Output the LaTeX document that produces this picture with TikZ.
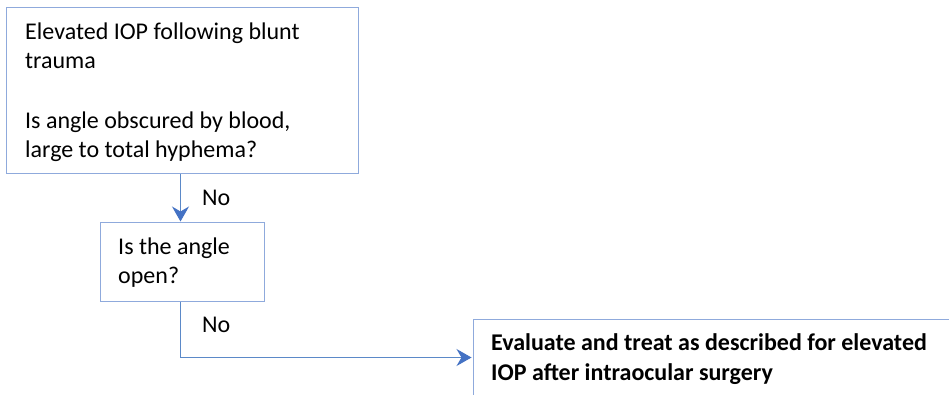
\documentclass[tikz,border=0pt]{standalone}
\usepackage{fontspec}
\setmainfont{Carlito}
\usetikzlibrary{arrows.meta}
\definecolor{boxline}{RGB}{143,170,220}
\definecolor{conn}{RGB}{91,137,200}
\definecolor{tipc}{RGB}{68,114,196}
\tikzset{
  box/.style={draw=boxline, line width=1pt, rectangle, inner sep=0pt, anchor=north west},
  txt/.style={anchor=base west, inner sep=0pt, font=\fontsize{24}{29}\selectfont, text=black},
  btxt/.style={txt, font=\fontsize{24}{29}\selectfont\bfseries},
  conn/.style={draw=conn, line width=1pt, shorten >=1pt, -{Stealth[length=15pt,width=17pt,inset=5pt,fill=tipc,color=tipc]}},
}
\begin{document}
\begin{tikzpicture}[x=1pt,y=-1pt]
\useasboundingbox (0,0) rectangle (949,395);
\clip (0,0) rectangle (949,395);
\fill[white] (0,0) rectangle (949,395);
% boxes
\node[box, minimum width=352pt, minimum height=166pt] (b1) at (5.5,7.5) {};
\node[box, minimum width=164pt, minimum height=78pt] (b2) at (99.5,222.5) {};
\node[box, minimum width=500pt, minimum height=100pt] (b3) at (472.5,318.5) {};
% texts
\node[txt] (t1a) at (25,40) {Elevated IOP following blunt};
\node[txt] (t1b) at (25,69) {trauma};
\node[txt] (t1c) at (25,129) {Is angle obscured by blood,};
\node[txt] (t1d) at (25,158) {large to total hyphema?};
\node[txt] (t2a) at (118,254) {Is the angle};
\node[txt] (t2b) at (118,283) {open?};
\node[btxt] (t3a) at (491,350) {Evaluate and treat as described for elevated};
\node[btxt] (t3b) at (491,380) {IOP after intraocular surgery};
\node[txt] (n1) at (202,206) {No};
\node[txt] (n2) at (202,332) {No};
% connectors
\coordinate (c1) at (180.5,357.5);
\draw[conn] (b1.south -| 180.5,0) -- (b2.north -| 180.5,0);
\draw[conn] (b2.south -| 180.5,0) -- (c1) -- (b3.west |- c1);
\end{tikzpicture}
\end{document}
